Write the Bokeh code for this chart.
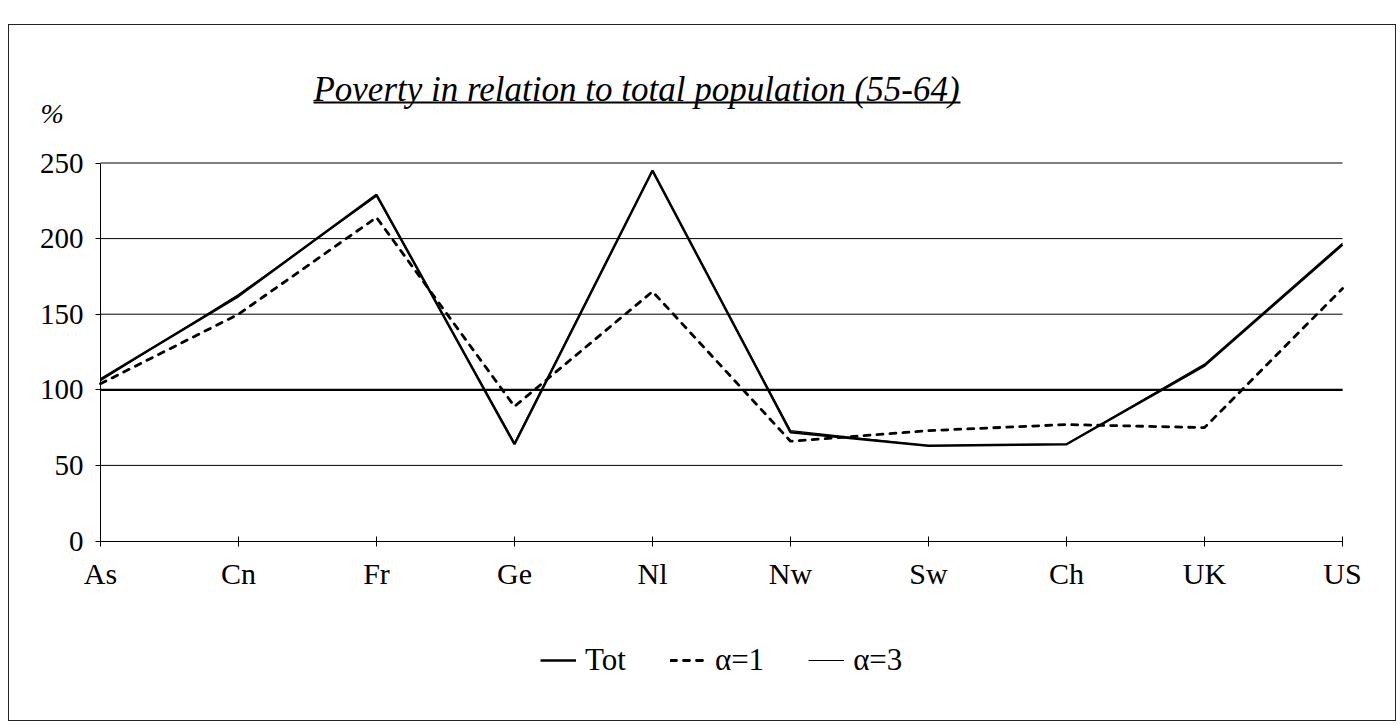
from bokeh.plotting import figure
from bokeh.models import FixedTicker, Legend, LegendItem, Label, BoxAnnotation
from bokeh.embed import file_html
from bokeh.resources import INLINE

countries = ["As", "Cn", "Fr", "Ge", "Nl", "Nw", "Sw", "Ch", "UK", "US"]
tot = [107, 162, 229, 64, 245, 72, 63, 64, 116, 196]
alpha1 = [104, 150, 214, 89, 165, 66, 73, 77, 75, 167]
alpha3 = [106, 163, 228, 65, 245, 73, 63, 64, 117, 197]
y_ticks = [0, 50, 100, 150, 200, 250]

x = list(range(len(countries)))
SERIF = "Liberation Serif"

W, H = 1388, 697
# frame covers the whole canvas; data area placed through the ranges
px_x = 138.0
px_y = 1.512
x0_c, y0_c = 91.0, 515.5          # canvas position of (0, 0)
x_start = -x0_c / px_x
x_end = (len(x) - 1) + (W - (x0_c + (len(x) - 1) * px_x)) / px_x
y_start = -(H - y0_c) / px_y
y_end = 250 + (y0_c - 250 * px_y) / px_y

p = figure(width=W, height=H, x_range=(x_start, x_end), y_range=(y_start, y_end),
           output_backend="svg", toolbar_location=None,
           min_border_left=0, min_border_right=0,
           min_border_top=0, min_border_bottom=0)
p.margin = (24, 0, 0, 8)
p.styles = {"border": "1px solid #222"}
p.outline_line_color = None
p.background_fill_color = "white"
p.border_fill_color = "white"

# axes fixed at data 0
p.xaxis.fixed_location = 0
p.xaxis.bounds = (0, len(x) - 1)
p.xaxis.ticker = FixedTicker(ticks=x)
p.xaxis.major_label_overrides = {i: c for i, c in enumerate(countries)}
p.xaxis.major_tick_in = 5
p.xaxis.major_tick_out = 5
p.xaxis.minor_tick_line_color = None
p.xaxis.axis_line_color = "black"
p.xaxis.major_tick_line_color = "black"
p.xaxis.major_label_standoff = 11
p.xaxis.major_label_text_font = SERIF
p.xaxis.major_label_text_font_size = "30px"
p.xaxis.major_label_text_color = "black"

p.yaxis.fixed_location = 0
p.yaxis.bounds = (0, 250)
p.yaxis.ticker = FixedTicker(ticks=y_ticks)
p.yaxis.major_tick_in = 0
p.yaxis.major_tick_out = 5
p.yaxis.minor_tick_line_color = None
p.yaxis.axis_line_color = "black"
p.yaxis.major_tick_line_color = "black"
p.yaxis.major_label_standoff = 12
p.yaxis.major_label_text_font = SERIF
p.yaxis.major_label_text_font_size = "29px"
p.yaxis.major_label_text_color = "black"

p.xgrid.grid_line_color = None
p.ygrid.grid_line_color = None

# horizontal grid lines across the category span
gy = [t for t in y_ticks if t > 0]
p.segment(x0=[0] * len(gy), x1=[len(x) - 1] * len(gy), y0=gy, y1=gy,
          line_color="black", line_width=1)
p.segment(x0=[0], x1=[len(x) - 1], y0=[100], y1=[100], line_color="black", line_width=2.2)

r_tot = p.line(x, tot, line_color="black", line_width=2.5)
r_a1 = p.line(x, alpha1, line_color="black", line_width=2.8, line_dash="6 7", line_cap="round")
r_a3 = p.line(x, alpha3, line_color="black", line_width=1.2)

legend = Legend(items=[LegendItem(label="Tot", renderers=[r_tot]),
                       LegendItem(label="α=1", renderers=[r_a1]),
                       LegendItem(label="α=3", renderers=[r_a3])],
                location=(531, 44), orientation="horizontal",
                border_line_color=None, background_fill_alpha=0,
                label_text_font=SERIF, label_text_font_size="31px",
                label_text_color="black",
                glyph_width=36, glyph_height=20, label_standoff=9, spacing=44,
                padding=0, margin=0)
p.add_layout(legend)

title = Label(x=627, y=633, x_units="screen", y_units="screen",
              text="Poverty in relation to total population (55-64)",
              text_font=SERIF, text_font_style="italic", text_font_size="35px",
              text_align="center", text_baseline="middle", text_color="black")
p.add_layout(title)
p.add_layout(BoxAnnotation(left=304, right=951, bottom=619, top=621,
                           left_units="screen", right_units="screen",
                           bottom_units="screen", top_units="screen",
                           fill_color="black", fill_alpha=1, line_color=None))

pct = Label(x=31, y=609, x_units="screen", y_units="screen", text="%",
            text_font=SERIF, text_font_style="italic", text_font_size="28px",
            text_align="left", text_baseline="middle", text_color="black")
p.add_layout(pct)

open("out.html", "w").write(file_html(p, INLINE))
